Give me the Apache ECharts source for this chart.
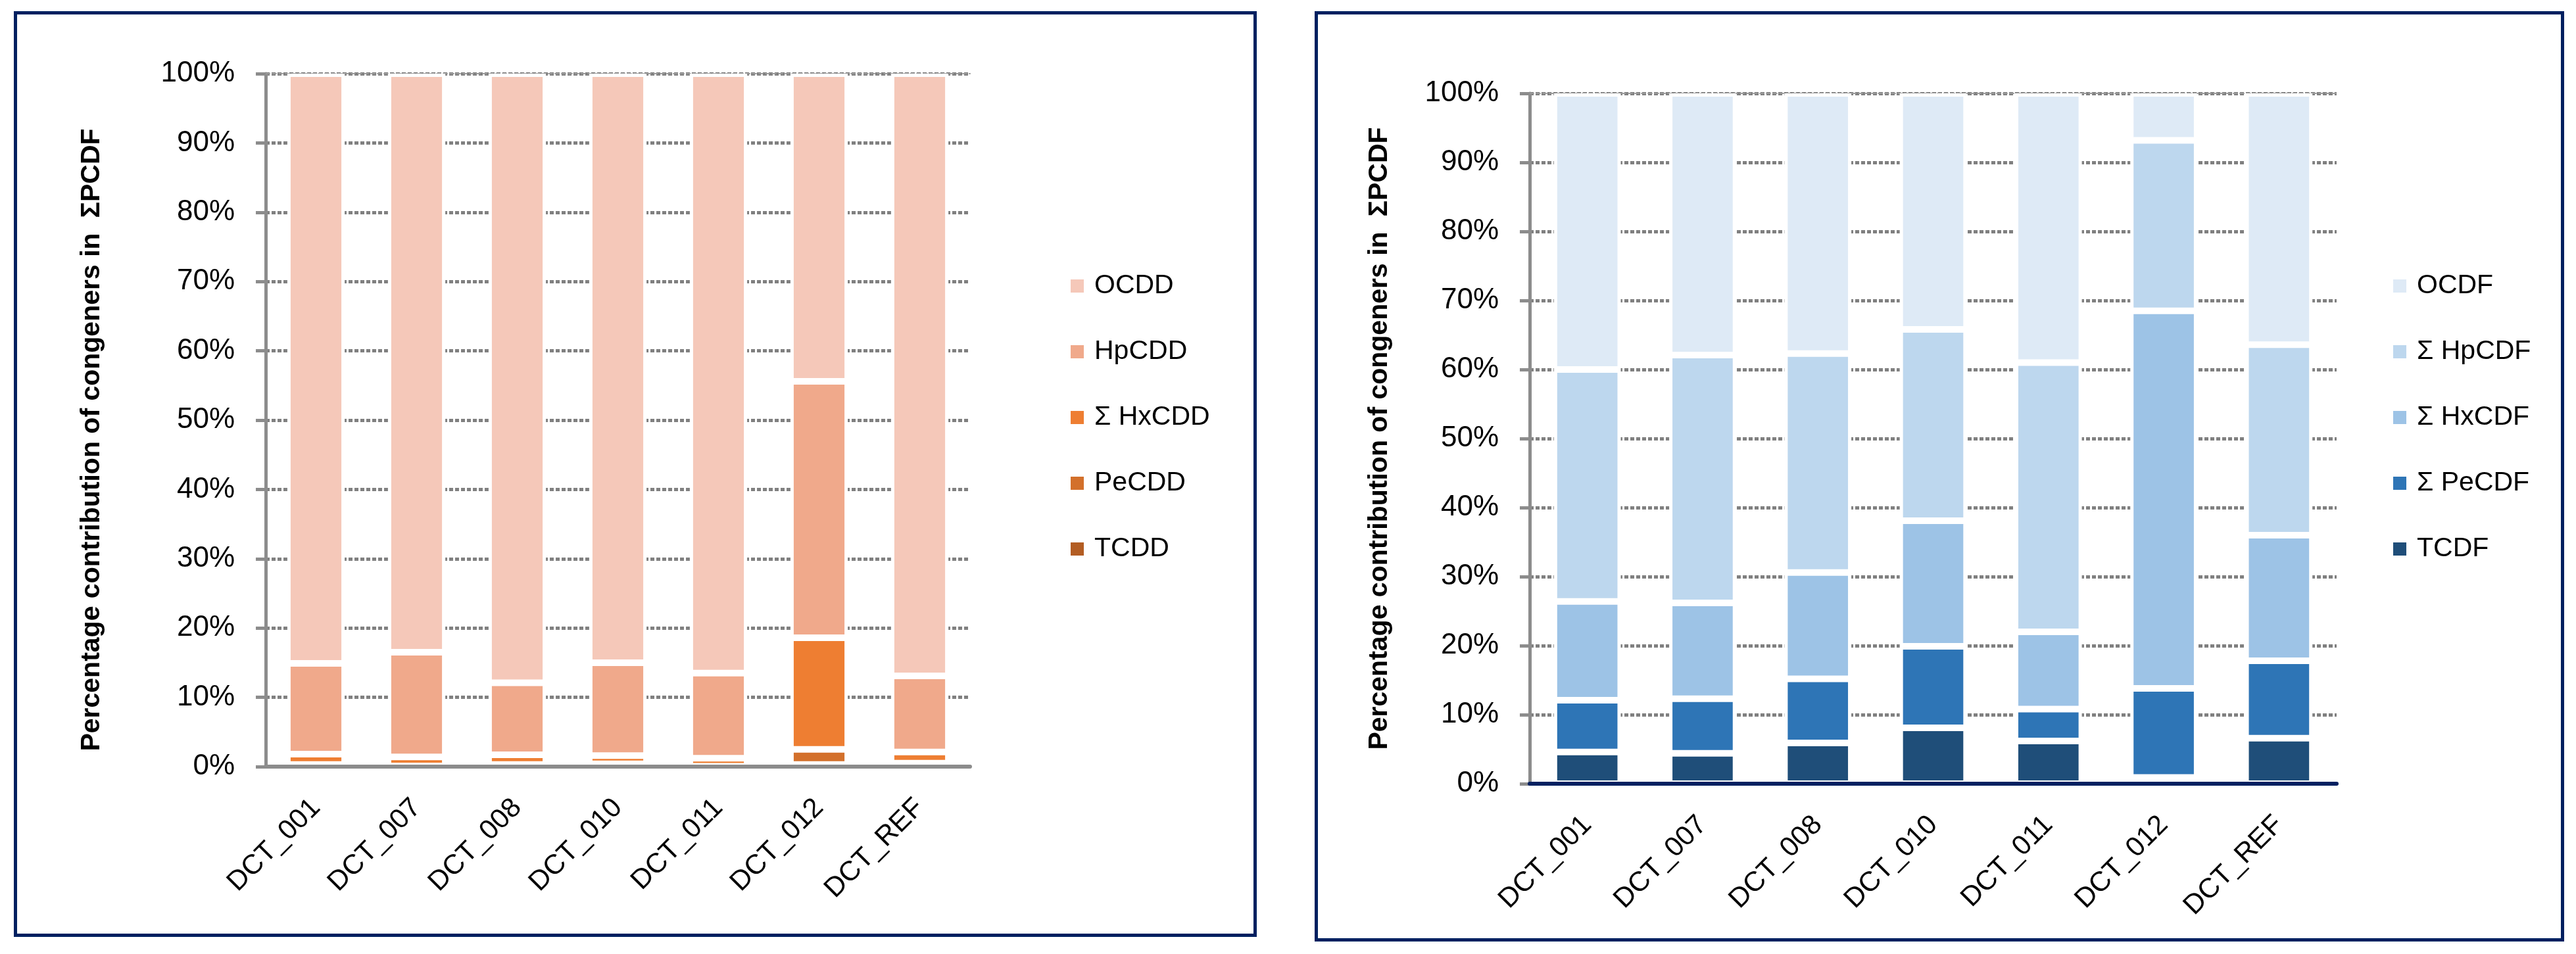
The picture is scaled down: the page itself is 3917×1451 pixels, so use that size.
<!DOCTYPE html>
<html>
<head>
<meta charset="utf-8">
<script src="https://cdn.jsdelivr.net/npm/echarts/dist/echarts.min.js"></script>
<style>
html,body{margin:0;padding:0;background:#ffffff;}
#chart{position:absolute;left:0;top:0;width:3917px;height:1451px;}
.frame{position:absolute;border:5px solid #002060;box-sizing:border-box;pointer-events:none;}
</style>
</head>
<body>
<div id="chart"></div>
<div class="frame" style="left:21px;top:17px;width:1890px;height:1408px"></div>
<div class="frame" style="left:1999px;top:17px;width:1900px;height:1415px"></div>
<script>
// ---- data ----
const categories = ['DCT_001', 'DCT_007', 'DCT_008', 'DCT_010', 'DCT_011', 'DCT_012', 'DCT_REF'];
const yTickLabels = ['0%', '10%', '20%', '30%', '40%', '50%', '60%', '70%', '80%', '90%', '100%'];
const yTitle = 'Percentage contribution of congeners in  \u03A3PCDF';

// PCDD (left panel), % of total
const pcddNames = ['TCDD', 'PeCDD', '\u03A3 HxCDD', 'HpCDD', 'OCDD'];
const TCDD   = [0.1, 0.05, 0.1, 0.1, 0.03, 0.3, 0.2];
const PeCDD  = [0.2, 0.05, 0.2, 0.3, 0.02, 2.2, 0.3];
const HxCDD  = [1.5, 1.3, 1.4, 1.2, 1.15, 16.1, 1.6];
const HpCDD  = [13.1, 15.1, 10.4, 13.4, 12.3, 37.0, 11.0];
const OCDD   = [85.1, 83.5, 87.9, 85.0, 86.5, 44.4, 86.9];

// PCDF (right panel), % of total
const pcdfNames = ['TCDF', '\u03A3 PeCDF', '\u03A3 HxCDF', '\u03A3 HpCDF', 'OCDF'];
const TCDF   = [4.6, 4.4, 5.9, 8.1, 6.2, 0.9, 6.6];
const PeCDF  = [7.5, 7.9, 9.3, 11.8, 4.6, 12.9, 11.2];
const HxCDF  = [14.3, 13.9, 15.4, 18.2, 11.2, 54.7, 18.2];
const HpCDF  = [33.6, 35.9, 31.7, 27.7, 39.0, 24.7, 27.6];
const OCDF   = [40.0, 37.9, 37.7, 34.2, 39.0, 6.8, 36.4];

const pcddColors = ['#b35d23', '#d3702b', '#ee7e32', '#f0a98b', '#f5c8b9'];
const pcdfColors = ['#1f4e79', '#2e75b6', '#9dc3e6', '#bdd7ee', '#deeaf6'];

// ---- chart ----
const FONT = 'Liberation Sans, Arial, sans-serif';
const chart = echarts.init(document.getElementById('chart'), null, {renderer: 'canvas'});

function yAxisCfg(grid, gap, tailPad) {
  return {
    gridIndex: grid, type: 'value', min: 0, max: 100, interval: 10,
    axisLine: {show: true, lineStyle: {color: '#8c8c8c', width: 5}},
    axisTick: {show: true, length: 15, lineStyle: {color: '#8c8c8c', width: 5}},
    axisLabel: {
      margin: 47, fontSize: 44, color: '#000', fontFamily: FONT,
      formatter: function (v) { return yTickLabels[Math.round(v / 10)]; }
    },
    splitLine: {show: true, lineStyle: {color: '#808080', width: 5, type: [6, 3]}},
    name: tailPad > 0 ? yTitle + '{s|}' : yTitle,
    nameLocation: 'middle', nameRotate: 90, nameGap: gap,
    nameTextStyle: {fontSize: 41, fontWeight: 'bold', color: '#000', fontFamily: FONT,
      rich: {s: {width: tailPad, height: 10}}}
  };
}
function xAxisCfg(grid, lineColor) {
  return {
    gridIndex: grid, type: 'category', data: categories,
    axisLine: {show: true, lineStyle: {color: lineColor, width: 6}},
    axisTick: {show: false},
    axisLabel: {interval: 0, rotate: 45, margin: 56, fontSize: 42, color: '#000', fontFamily: FONT},
    z: 5
  };
}
function topAxisCfg(grid) {
  return {
    gridIndex: grid, type: 'category', data: categories, position: 'top',
    axisLine: {show: true, lineStyle: {color: '#9a9a9a', width: 2, type: [6, 4]}},
    axisTick: {show: false}, axisLabel: {show: false}, splitLine: {show: false}
  };
}
function makeSeries(names, arrays, colors, axisIdx, stack, width) {
  return names.map(function (n, i) {
    return {
      name: n, type: 'bar', stack: stack, xAxisIndex: axisIdx, yAxisIndex: axisIdx,
      barWidth: width, data: arrays[i],
      itemStyle: {color: colors[i], borderColor: '#ffffff', borderWidth: 5},
      emphasis: {disabled: true}
    };
  });
}
function legendCfg(left, names) {
  return {
    orient: 'vertical', left: left, top: 408, itemWidth: 22, itemHeight: 22, itemGap: 56,
    icon: 'rect', selectedMode: false, data: names.slice().reverse(),
    textStyle: {fontSize: 41, color: '#000', fontFamily: FONT, lineHeight: 44, padding: [0, 0, 0, 10]}
  };
}

const option = {
  animation: false,
  grid: [
    {left: 404, top: 112, width: 1071, height: 1054},
    {left: 2326, top: 142, width: 1227, height: 1050}
  ],
  xAxis: [xAxisCfg(0, '#8c8c8c'), xAxisCfg(1, '#002060'), topAxisCfg(0), topAxisCfg(1)],
  yAxis: [yAxisCfg(0, 244, 60), yAxisCfg(1, 208, 0)],
  legend: [legendCfg(1621, pcddNames), legendCfg(3632, pcdfNames)],
  series: [].concat(
    makeSeries(pcddNames, [TCDD, PeCDD, HxCDD, HpCDD, OCDD], pcddColors, 0, 'pcdd', '57%'),
    makeSeries(pcdfNames, [TCDF, PeCDF, HxCDF, HpCDF, OCDF], pcdfColors, 1, 'pcdf', '58%')
  )
};
chart.setOption(option);
</script>
</body>
</html>
